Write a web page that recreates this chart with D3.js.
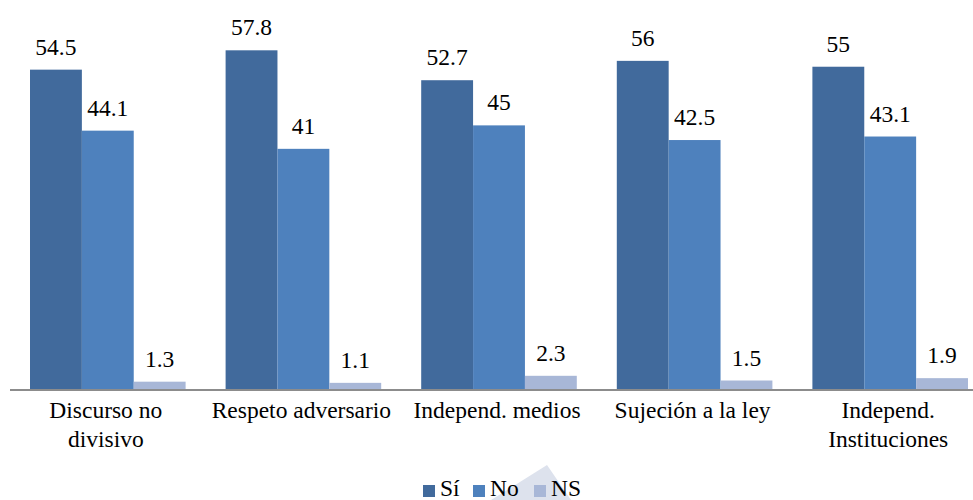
<!DOCTYPE html>
<html>
<head>
<meta charset="utf-8">
<script src="https://cdn.jsdelivr.net/npm/d3@7"></script>
</head>
<body style="margin:0">
<svg id="chart" width="973" height="500" style="display:block"></svg>
<script>
// Categories (line breaks marked with "|")
const categories = ["Discurso no|divisivo", "Respeto adversario", "Independ. medios", "Sujeción a la ley", "Independ.|Instituciones"];
const seriesNames = ["Sí", "No", "NS"];
const siValues = [54.5, 57.8, 52.7, 56, 55];
const noValues = [44.1, 41, 45, 42.5, 43.1];
const nsValues = [1.3, 1.1, 2.3, 1.5, 1.9];
const colors = ["#416a9c", "#4e81bd", "#a8b7d7"];

const FONT = "'Times New Roman'";
const FS = 23.5;

const seriesValues = [siValues, noValues, nsValues];
const rows = categories.map((c, i) => ({
  cat: c,
  vals: seriesNames.map((s, j) => ({ series: s, value: seriesValues[j][i], color: colors[j] }))
}));

const svg = d3.select("#chart");
const baseY = 389.3;
const bandW = 195.6;

const x0 = d3.scaleBand().domain(categories).range([10, 10 + bandW * categories.length]).padding(0);
const x1 = d3.scaleBand().domain(seriesNames).range([20, bandW - 20]).padding(0);
const y = d3.scaleLinear().domain([0, 60]).range([baseY, baseY - 60 * 5.865]);

function serif(sel) {
  return sel.style("font-family", FONT).attr("font-size", FS);
}

// faint background shape behind the legend
svg.append("polygon")
  .attr("points", [[547, 465], [491, 500], [571, 500]].map(p => p.join(",")).join(" "))
  .attr("fill", "#dde2ed");

const groups = svg.append("g").selectAll("g")
  .data(rows).join("g")
  .attr("transform", d => `translate(${x0(d.cat)},0)`);

groups.selectAll("rect")
  .data(d => d.vals).join("rect")
  .attr("x", d => x1(d.series))
  .attr("width", x1.bandwidth())
  .attr("y", d => y(d.value))
  .attr("height", d => y(0) - y(d.value))
  .attr("fill", d => d.color);

groups.selectAll("text.val")
  .data(d => d.vals).join("text")
  .attr("class", "val")
  .attr("x", d => x1(d.series) + x1.bandwidth() / 2)
  .attr("y", d => y(d.value) - 15)
  .attr("text-anchor", "middle")
  .call(serif)
  .text(d => d.value);

// baseline axis
svg.append("line")
  .attr("x1", 10).attr("x2", 973)
  .attr("y1", baseY + 0.7).attr("y2", baseY + 0.7)
  .attr("stroke", "#8c8c8c").attr("stroke-width", 2);

// category labels
const catLabels = svg.append("g").selectAll("text")
  .data(categories).join("text")
  .attr("x", d => x0(d) + bandW / 2 - 2)
  .attr("y", 418)
  .attr("text-anchor", "middle")
  .call(serif);
catLabels.each(function (d) {
  const t = d3.select(this);
  d.split("|").forEach((line, i) => {
    t.append("tspan")
      .attr("x", x0(d) + bandW / 2 - 2)
      .attr("dy", i === 0 ? 0 : 29)
      .text(line);
  });
});

// legend
const legendItems = [
  { name: "Sí", color: colors[0], x: 423 },
  { name: "No", color: colors[1], x: 473 },
  { name: "NS", color: colors[2], x: 534 }
];
const lg = svg.append("g").selectAll("g").data(legendItems).join("g")
  .attr("transform", d => `translate(${d.x},0)`);
lg.append("rect").attr("x", 0).attr("y", 485).attr("width", 12).attr("height", 12).attr("fill", d => d.color);
lg.append("text").attr("x", 17).attr("y", 496)
  .call(serif)
  .text(d => d.name);
</script>
</body>
</html>
